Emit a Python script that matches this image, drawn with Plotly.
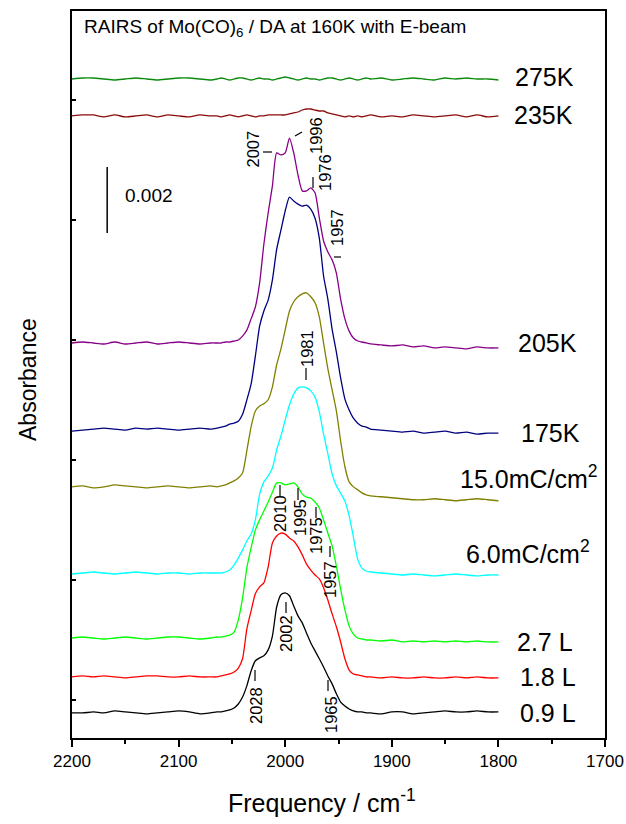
import plotly.graph_objects as go

# ---------------- data (absorbance in units of 1e-3) ----------------
FREQ = [2200, 2190, 2180, 2170, 2160, 2150, 2140, 2130, 2120, 2110, 2100, 2090, 2080, 2070,
        2064, 2060, 2056, 2052, 2048, 2044, 2040, 2036, 2032, 2028, 2024, 2020, 2016, 2012,
        2008, 2004, 2000, 1996, 1992, 1988, 1984, 1980, 1976, 1972, 1968, 1964, 1960, 1956,
        1952, 1948, 1944, 1940, 1936, 1932, 1928, 1924,
        1920, 1910, 1900, 1890, 1880, 1870, 1860, 1850, 1840, 1830, 1820, 1810, 1800]

A_09L = [0, 0, 0.03, 0, 0.06, 0.03, 0, -0.03, 0, 0.03, 0.06, 0.03, -0.03, 0,
         0.03, 0.03, 0.06, 0.09, 0.15, 0.27, 0.48, 0.82, 1.27, 1.58, 1.67, 1.73, 1.91, 2.33,
         3.21, 3.58, 3.64, 3.55, 3.24, 2.94, 2.73, 2.42, 2.12, 1.88, 1.64, 1.39, 1.12, 0.88,
         0.58, 0.33, 0.21, 0.12, 0.06, 0.03, 0.03, 0.00,
         0, -0.03, 0.03, 0.03, -0.03, 0, 0.03, 0.06, 0.03, 0.03, 0.06, 0.03, 0.03]

A_18L = [0, 0.03, 0, 0.03, 0, -0.03, 0, 0.03, 0.03, 0, 0, 0.03, 0, 0,
         0.00, 0.03, 0.06, 0.09, 0.15, 0.27, 0.55, 1.45, 2.00, 2.52, 2.73, 2.85, 3.33, 4.06,
         4.27, 4.36, 4.33, 4.21, 4.12, 3.94, 3.70, 3.42, 3.24, 3.09, 2.97, 2.70, 2.33, 1.91,
         1.52, 1.06, 0.55, 0.21, 0.09, 0.06, 0.03, 0.00,
         0, -0.03, 0, -0.03, -0.03, 0, -0.03, -0.03, 0, -0.03, 0, -0.03, -0.03]

A_27L = [0, 0.03, 0, -0.03, 0, 0.03, 0, -0.03, 0, 0.03, 0.03, 0, -0.03, 0,
         0.03, 0.03, 0.06, 0.09, 0.18, 0.55, 1.21, 2.12, 2.73, 3.27, 3.58, 3.85, 4.12, 4.42,
         4.70, 4.70, 4.64, 4.67, 4.70, 4.58, 4.36, 4.27, 4.24, 4.12, 3.94, 3.58, 3.18, 2.79,
         2.18, 1.48, 0.85, 0.36, 0.12, 0.00, -0.03, -0.06,
         -0.06, -0.09, -0.06, -0.12, -0.09, -0.12, -0.09, -0.12, -0.09, -0.12, -0.09, -0.12, -0.12]

A_6MC = [0, 0.03, 0.06, 0.03, 0, 0.03, 0.06, 0.03, 0, 0.03, 0.03, 0, 0.03, 0.03,
         0.03, 0.03, 0.06, 0.12, 0.27, 0.48, 0.73, 1.00, 1.21, 1.64, 2.42, 2.79, 2.97, 3.21,
         3.76, 4.18, 4.67, 5.12, 5.45, 5.64, 5.67, 5.64, 5.55, 5.36, 4.91, 4.24, 3.64, 3.03,
         2.67, 2.45, 2.21, 1.76, 1.12, 0.45, 0.18, 0.09,
         0.06, 0.03, 0, -0.03, 0, -0.03, -0.06, -0.03, 0, -0.03, -0.06, -0.03, -0.03]

A_15MC = [0, 0.03, -0.03, 0, 0.06, 0.03, 0, -0.03, 0, 0.03, 0, -0.03, 0, 0.03,
          0.00, 0.03, 0.06, 0.12, 0.18, 0.27, 0.42, 1.09, 1.82, 2.30, 2.45, 2.52, 2.64, 3.03,
          3.70, 4.18, 4.76, 5.33, 5.61, 5.76, 5.85, 5.88, 5.76, 5.58, 5.15, 4.36, 3.58, 2.94,
          2.30, 1.39, 0.61, 0.15, 0.00, -0.09, -0.18, -0.24,
          -0.27, -0.30, -0.33, -0.36, -0.39, -0.39, -0.36, -0.39, -0.42, -0.39, -0.36, -0.39, -0.42]

A_175K = [-0.03, 0, 0.03, 0.06, 0.03, 0, 0.06, 0.03, 0.06, 0.03, 0, 0.03, 0.06, 0.03,
          0.06, 0.09, 0.12, 0.18, 0.21, 0.27, 0.48, 0.91, 1.39, 2.24, 3.15, 3.61, 3.94, 4.55,
          5.48, 6.06, 6.64, 7.06, 6.94, 6.85, 6.79, 6.82, 6.70, 6.42, 5.82, 4.67, 3.97, 3.06,
          2.36, 1.58, 0.94, 0.61, 0.36, 0.21, 0.12, 0.09,
          0.03, 0, -0.03, -0.06, -0.03, -0.09, -0.06, -0.03, -0.09, -0.06, -0.12, -0.09, -0.09]

A_205K = [0, 0.03, 0, -0.03, 0.03, -0.03, 0, 0.03, -0.03, 0, 0.03, 0, -0.03, 0,
          0.00, 0.00, 0.03, 0.03, 0.06, 0.09, 0.21, 0.39, 0.73, 1.09, 1.82, 3.00, 3.94, 4.76,
          5.76, 5.70, 5.76, 6.21, 5.76, 5.09, 4.61, 4.61, 4.70, 4.55, 3.79, 3.09, 2.76, 2.52,
          2.12, 1.33, 0.73, 0.36, 0.15, 0.06, 0.03, 0.00,
          -0.03, -0.06, -0.09, -0.06, -0.12, -0.09, -0.15, -0.12, -0.15, -0.18, -0.12, -0.15, -0.15]

A_235K = [0, 0.03, 0.03, -0.03, 0.03, -0.03, 0, 0.03, -0.03, 0.03, 0, -0.03, 0.03, 0,
          0, -0.03, 0, 0.03, 0, -0.03, 0, 0.03, 0, -0.03, 0, 0, 0.03, 0.03,
          0.03, 0.03, 0.03, 0.06, 0.09, 0.12, 0.18, 0.21, 0.21, 0.18, 0.15, 0.15, 0.09, 0.06,
          0.03, 0, -0.03, 0, -0.03, 0, -0.03, 0,
          0.03, -0.03, 0, -0.03, 0.03, 0, -0.03, 0, 0.03, -0.03, 0.03, -0.03, 0]

A_275K = [0, 0.03, 0.03, 0, -0.03, 0, 0.03, 0, -0.03, 0, 0.03, 0.03, 0, -0.03,
          0, 0.03, 0, -0.03, 0, 0.03, 0.03, 0, -0.03, 0, 0.03, 0, 0, -0.03,
          0, 0.03, 0.06, 0.03, 0, -0.03, 0, 0.03, 0, 0, -0.03, 0, 0.03, 0.03,
          0, -0.03, 0, 0.03, 0, -0.03, 0, 0.03,
          0, 0.03, -0.03, 0, 0.03, 0, -0.03, 0.03, 0, 0.03, 0, 0, -0.03]

# vertical stacking offsets (1e-3 absorbance)
SERIES = [A_275K, A_235K, A_205K, A_175K, A_15MC, A_6MC, A_27L, A_18L, A_09L]
OFFSETS = [19.97, 18.85, 11.97, 9.33, 7.61, 4.97, 3.03, 1.85, 0.76]
LABELS = ["275K", "235K", "205K", "175K", "15.0mC/cm<sup>2</sup>", "6.0mC/cm<sup>2</sup>",
          "2.7 L", "1.8 L", "0.9 L"]
COLORS = ["#0b8a0b", "#8b0a0a", "#880088", "#000080", "#808000", "#00ffff",
          "#00ff00", "#ff0000", "#000000"]

PEAKS = ["2007", "1996", "1976", "1957", "1981", "2010", "1995", "1975", "1957",
         "2028", "2002", "1965"]
SCALE_BAR = 2.0  # 0.002 absorbance

# ---------------- layout helpers (pixel -> paper) ----------------
L, R, T, B = 72, 605, 11, 738
def px(x, y):
    return (x - L) / (R - L), (B - y) / (B - T)

FONT = "Liberation Sans, Arial, Helvetica, sans-serif"

fig = go.Figure()
for vals, off, col, name in zip(SERIES, OFFSETS, COLORS, LABELS):
    fig.add_trace(go.Scatter(
        x=FREQ, y=[v + off for v in vals], mode="lines", name=name,
        line=dict(color=col, width=1.3, shape="spline", smoothing=0.6),
        hoverinfo="skip", showlegend=False))

annotations = []
# right-hand series labels
label_pos = [(513, 77), (512, 115), (516, 343), (519, 433), (458, 477),
             (464, 552), (515, 642), (518, 677), (518, 713)]
for text, (lx, ly) in zip(LABELS, label_pos):
    ax, ay = px(lx, ly)
    annotations.append(dict(x=ax, y=ay, xref="paper", yref="paper", text=text,
                            showarrow=False, xanchor="left", yanchor="middle",
                            font=dict(family=FONT, size=25, color="black")))

# peak labels (rotated)
peak_pos = [(252.5, 149), (316, 136), (325, 173), (337, 228), (307, 349),
            (280, 514), (300, 518), (316, 536), (330, 580),
            (256, 706), (286, 634), (331, 715)]
for text, (lx, ly) in zip(PEAKS, peak_pos):
    ax, ay = px(lx, ly)
    annotations.append(dict(x=ax, y=ay, xref="paper", yref="paper", text=text,
                            showarrow=False, textangle=-90, xanchor="center",
                            yanchor="middle",
                            font=dict(family=FONT, size=16.5, color="black")))

# title
tx, ty = px(82, 28)
annotations.append(dict(x=tx, y=ty, xref="paper", yref="paper",
                        text="RAIRS of Mo(CO)<sub>6</sub> / DA at 160K with E-beam",
                        showarrow=False, xanchor="left", yanchor="middle",
                        font=dict(family=FONT, size=19, color="black")))
# scale bar label
sx, sy = px(123, 196)
annotations.append(dict(x=sx, y=sy, xref="paper", yref="paper", text="0.002",
                        showarrow=False, xanchor="left", yanchor="middle",
                        font=dict(family=FONT, size=19, color="black")))
# axis titles
yx, yy = px(28, 380)
annotations.append(dict(x=yx, y=yy, xref="paper", yref="paper", text="Absorbance",
                        showarrow=False, textangle=-90, xanchor="center", yanchor="middle",
                        font=dict(family=FONT, size=23, color="black")))
fx, fy = px(322, 801)
annotations.append(dict(x=fx, y=fy, xref="paper", yref="paper",
                        text="Frequency / cm<sup>-1</sup>",
                        showarrow=False, xanchor="center", yanchor="middle",
                        font=dict(family=FONT, size=25, color="black")))

shapes = []
# dash marks next to peak labels
dashes = [((263, 152), (272, 152)), ((295, 136), (302, 132)), ((313, 177), (313, 188)),
          ((334, 257), (341, 257)), ((306, 368), (306, 380)), ((280, 485), (280, 497)),
          ((298, 488), (298, 500)), ((316, 507), (316, 518)), ((330, 546), (330, 557)),
          ((255, 670), (255, 681)), ((286, 602), (286, 613)), ((328, 680), (328, 691))]
for (x0, y0), (x1, y1) in dashes:
    a0, b0 = px(x0, y0)
    a1, b1 = px(x1, y1)
    shapes.append(dict(type="line", xref="paper", yref="paper", x0=a0, y0=b0, x1=a1, y1=b1,
                       line=dict(color="black", width=1.2)))
# scale bar in data coordinates
bar_y0 = (B - 233) / 33.0
shapes.append(dict(type="line", xref="x", yref="y", x0=2167, x1=2167,
                   y0=bar_y0, y1=bar_y0 + SCALE_BAR, line=dict(color="black", width=1.5)))

fig.update_layout(
    width=626, height=824,
    margin=dict(l=L, r=626 - R, t=T, b=824 - B, pad=0, autoexpand=False),
    paper_bgcolor="white", plot_bgcolor="white",
    annotations=annotations, shapes=shapes,
    font=dict(family=FONT, color="black"),
    xaxis=dict(range=[2200, 1700], tickvals=[2200, 2100, 2000, 1900, 1800, 1700],
               ticks="outside", ticklen=7, tickwidth=1.5, tickcolor="black",
               minor=dict(tickvals=[2150, 2050, 1950, 1850, 1750], ticks="outside",
                          ticklen=4, tickwidth=1.5, tickcolor="black"),
               showline=True, linewidth=2, linecolor="black", mirror=True,
               showgrid=False, zeroline=False, automargin=False,
               tickfont=dict(family=FONT, size=17, color="black")),
    yaxis=dict(range=[0, (B - T) / 33.0], showticklabels=False,
               ticks="inside", ticklen=4, tickwidth=1.5, tickcolor="black",
               tick0=38 / 33.0, dtick=120 / 33.0,
               showline=True, linewidth=2, linecolor="black", mirror=True,
               showgrid=False, zeroline=False, automargin=False),
)

fig.write_html("out.html", config={"displayModeBar": False})
